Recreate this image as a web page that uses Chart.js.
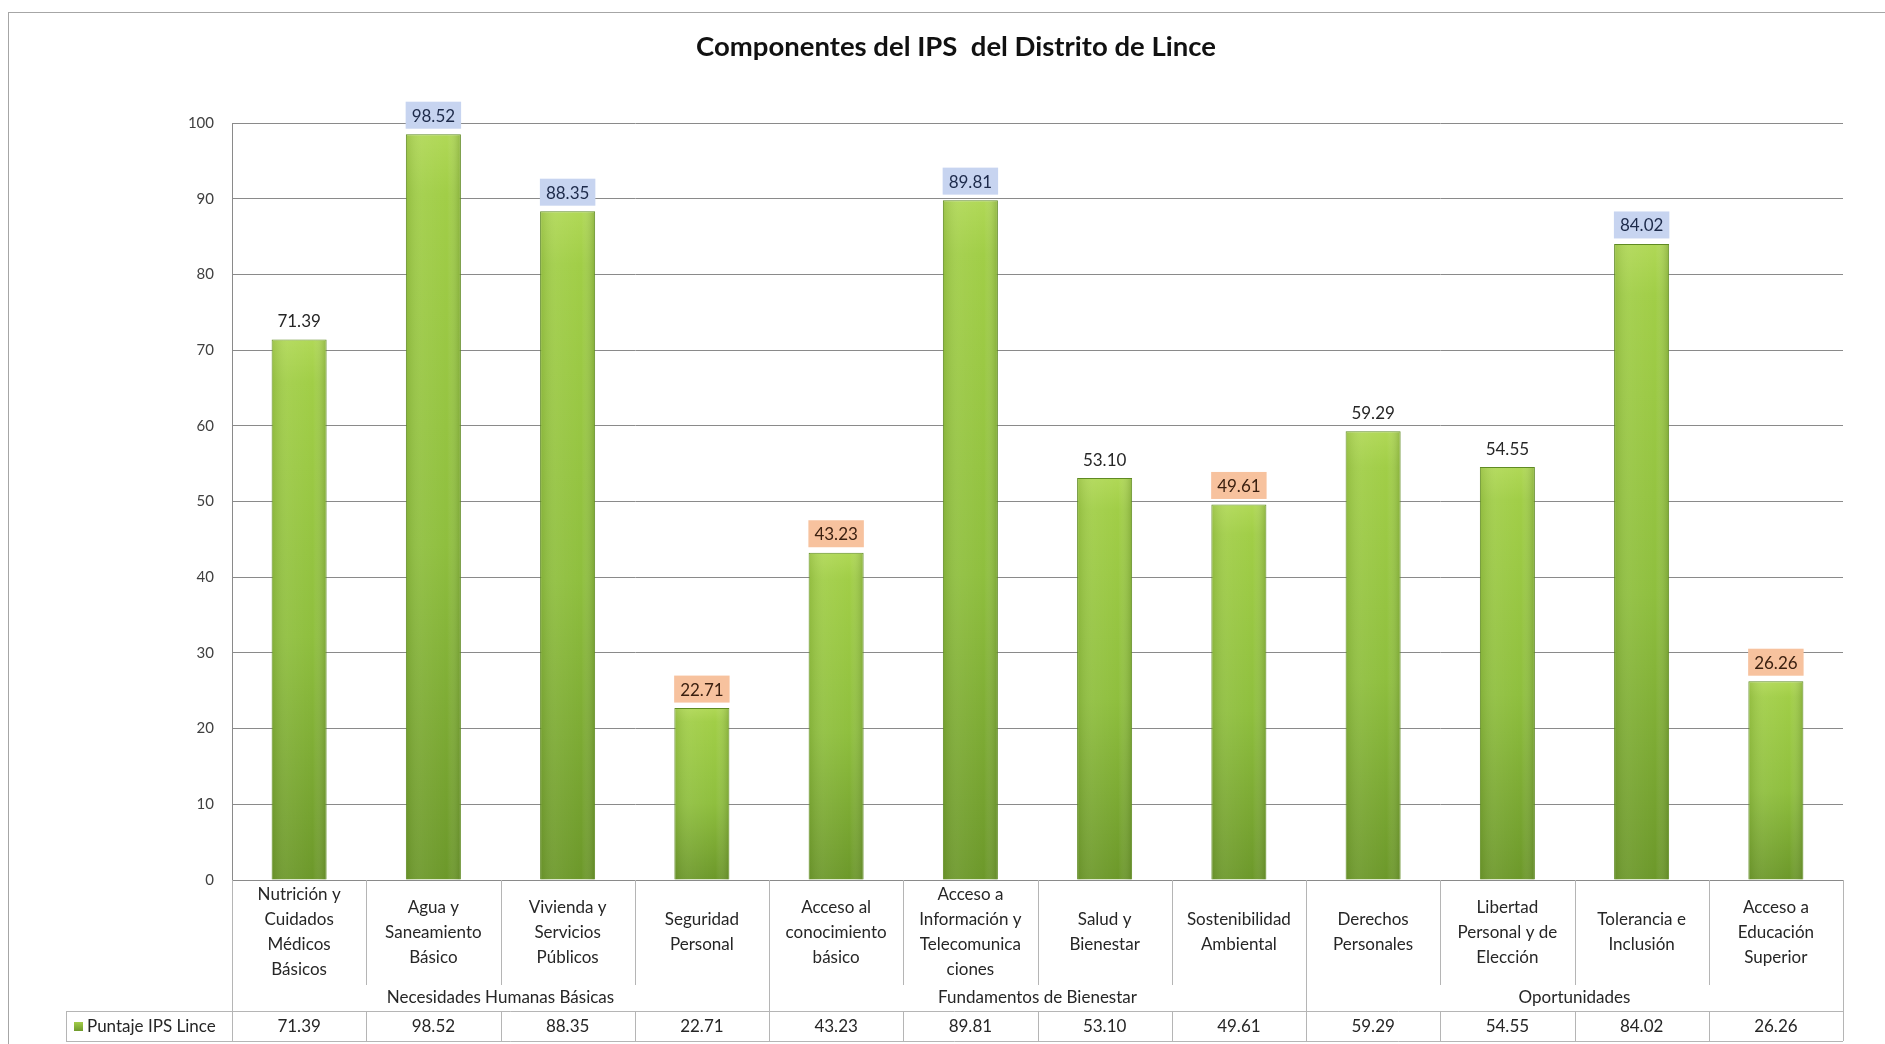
<!DOCTYPE html>
<html>
<head>
<meta charset="utf-8">
<script src="https://cdn.jsdelivr.net/npm/chart.js@4.4.1/dist/chart.umd.min.js"></script>
<style>
  html, body { margin: 0; padding: 0; background: #fff; }
</style>
</head>
<body>
<canvas id="chartIps" width="1885" height="1044"></canvas>
<script>
// datos
var categorias = [
  ['Nutrición y', 'Cuidados', 'Médicos', 'Básicos'],
  ['Agua y', 'Saneamiento', 'Básico'],
  ['Vivienda y', 'Servicios', 'Públicos'],
  ['Seguridad', 'Personal'],
  ['Acceso al', 'conocimiento', 'básico'],
  ['Acceso a', 'Información y', 'Telecomunica', 'ciones'],
  ['Salud y', 'Bienestar'],
  ['Sostenibilidad', 'Ambiental'],
  ['Derechos', 'Personales'],
  ['Libertad', 'Personal y de', 'Elección'],
  ['Tolerancia e', 'Inclusión'],
  ['Acceso a', 'Educación', 'Superior']
];
var dimensiones = ['Necesidades Humanas Básicas', 'Fundamentos de Bienestar', 'Oportunidades'];
var componentesPorDimension = [4, 4, 4];
var serieNombre = 'Puntaje IPS Lince';
var puntajeLince = [71.39, 98.52, 88.35, 22.71, 43.23, 89.81, 53.10, 49.61, 59.29, 54.55, 84.02, 26.26];
// '' sin fondo, 'alto' fondo azul, 'bajo' fondo naranja
var resaltado = ['', 'alto', 'alto', 'bajo', 'bajo', 'alto', '', 'bajo', '', '', 'alto', 'bajo'];
var ejeYMin = 0, ejeYMax = 100, ejeYPaso = 10;

var fuente = 'Lato, "Open Sans", sans-serif';
var colorTexto = '#262626';
var colorLineaTabla = '#b5b5b5';

function degradadoBarra(c) {
  var chart = c.chart, area = chart.chartArea;
  if (!area || c.type !== 'data') return '#95c443';
  var top = chart.scales.y.getPixelForValue(puntajeLince[c.dataIndex]);
  var g = chart.ctx.createLinearGradient(0, top, 0, area.bottom);
  g.addColorStop(0, '#b0d856');
  g.addColorStop(0.08, '#a1ce47');
  g.addColorStop(0.55, '#8fbf3e');
  g.addColorStop(1, '#6c982a');
  return g;
}

var marcoPlugin = {
  id: 'marco',
  beforeDraw: function (chart) {
    var ctx = chart.ctx;
    ctx.save();
    ctx.strokeStyle = '#a6a6a6';
    ctx.lineWidth = 1;
    ctx.strokeRect(8.5, 12.5, 1900, 1100);
    ctx.restore();
  }
};

var sombraPlugin = {
  id: 'sombra',
  afterDatasetsDraw: function (chart) {
    var ctx = chart.ctx;
    var meta = chart.getDatasetMeta(0);
    ctx.save();
    meta.data.forEach(function (el) {
      var w = el.width, x0 = el.x - w / 2;
      var g = ctx.createLinearGradient(x0, 0, x0 + w, 0);
      g.addColorStop(0, 'rgba(70,100,20,0.18)');
      g.addColorStop(0.3, 'rgba(255,255,255,0.06)');
      g.addColorStop(0.75, 'rgba(255,255,255,0)');
      g.addColorStop(1, 'rgba(60,90,15,0.28)');
      ctx.fillStyle = g;
      ctx.fillRect(x0 + 1, el.y + 1, w - 2, el.base - el.y - 1);
    });
    ctx.restore();
  }
};

var etiquetasPlugin = {
  id: 'etiquetas',
  afterDatasetsDraw: function (chart) {
    var ctx = chart.ctx;
    var meta = chart.getDatasetMeta(0);
    ctx.save();
    ctx.font = '17px ' + fuente;
    ctx.textAlign = 'center';
    ctx.textBaseline = 'middle';
    meta.data.forEach(function (el, i) {
      var txt = puntajeLince[i].toFixed(2);
      var cy = el.y - 19;
      if (resaltado[i]) {
        var tw = ctx.measureText(txt).width + 12;
        ctx.fillStyle = resaltado[i] === 'alto' ? '#c7d4f0' : '#f7c29e';
        ctx.fillRect(el.x - tw / 2, cy - 13.5, tw, 27);
      }
      ctx.fillStyle = resaltado[i] === 'alto' ? '#1d2a4a' : (resaltado[i] === 'bajo' ? '#3b2010' : colorTexto);
      ctx.fillText(txt, el.x, cy + 1);
    });
    ctx.restore();
  }
};

var tablaPlugin = {
  id: 'tabla',
  afterDraw: function (chart) {
    var ctx = chart.ctx, xs = chart.scales.x, area = chart.chartArea;
    var n = puntajeLince.length;
    var paso = (area.right - area.left) / n;
    var yBase = area.bottom;
    var yFinCat = yBase + 105, yFila = yBase + 131, yFin = yBase + 161;
    var xLeyenda = 66;
    var limites = [0];
    componentesPorDimension.forEach(function (k, j) { limites.push(limites[j] + k); });

    ctx.save();
    ctx.strokeStyle = colorLineaTabla;
    ctx.lineWidth = 1;
    ctx.beginPath();
    for (var i = 0; i <= n; i++) {
      var xl = Math.round(area.left + i * paso) + 0.5;
      if (limites.indexOf(i) >= 0) {
        ctx.moveTo(xl, yBase); ctx.lineTo(xl, yFin);
      } else {
        ctx.moveTo(xl, yBase); ctx.lineTo(xl, yFinCat);
        ctx.moveTo(xl, yFila); ctx.lineTo(xl, yFin);
      }
    }
    ctx.moveTo(xLeyenda, yFila + 0.5); ctx.lineTo(area.right, yFila + 0.5);
    ctx.moveTo(xLeyenda, yFin + 0.5); ctx.lineTo(area.right, yFin + 0.5);
    ctx.moveTo(xLeyenda + 0.5, yFila); ctx.lineTo(xLeyenda + 0.5, yFin);
    ctx.stroke();

    ctx.fillStyle = colorTexto;
    ctx.font = '17px ' + fuente;
    ctx.textAlign = 'center';
    ctx.textBaseline = 'middle';
    // nombres de componentes
    categorias.forEach(function (lineas, i) {
      var cx = xs.getPixelForValue(i);
      var y0 = yBase + 52.5 - (lineas.length - 1) * 25 / 2;
      lineas.forEach(function (t, k) { ctx.fillText(t, cx, y0 + k * 25); });
    });
    // dimensiones
    dimensiones.forEach(function (d, j) {
      var cx = area.left + (limites[j] + limites[j + 1]) / 2 * paso;
      ctx.fillText(d, cx, yBase + 118);
    });
    // fila de datos
    puntajeLince.forEach(function (v, i) {
      ctx.fillText(v.toFixed(2), xs.getPixelForValue(i), yBase + 147);
    });
    // leyenda
    var g = ctx.createLinearGradient(0, yBase + 141, 0, yBase + 151);
    g.addColorStop(0, '#a8d24c');
    g.addColorStop(1, '#6f9a2c');
    ctx.fillStyle = g;
    ctx.fillRect(74, yBase + 142, 9, 9);
    ctx.fillStyle = colorTexto;
    ctx.textAlign = 'left';
    ctx.fillText(serieNombre, 87, yBase + 147);
    ctx.restore();
  }
};

new Chart(document.getElementById('chartIps'), {
  type: 'bar',
  data: {
    labels: categorias,
    datasets: [{
      label: serieNombre,
      data: puntajeLince,
      backgroundColor: degradadoBarra,
      borderColor: '#5f8a22',
      borderWidth: 1,
      barPercentage: 0.41,
      categoryPercentage: 1
    }]
  },
  options: {
    responsive: false,
    animation: false,
    layout: { padding: { left: 69, right: 42, top: 0, bottom: 164 } },
    plugins: {
      legend: { display: false },
      tooltip: { enabled: false },
      title: {
        display: true,
        text: 'Componentes del IPS  del Distrito de Lince',
        color: '#111',
        font: { family: fuente, size: 27.5, weight: 'bold', lineHeight: 1.2 },
        padding: { top: 31, bottom: 59 }
      }
    },
    scales: {
      x: {
        ticks: { display: false },
        grid: { display: false, drawTicks: false },
        border: { display: true, color: '#8a8a8a', width: 1 }
      },
      y: {
        min: ejeYMin,
        max: ejeYMax,
        afterFit: function (s) { s.width = 163; },
        ticks: { stepSize: ejeYPaso, padding: 18, color: '#404040', font: { family: fuente, size: 15 } },
        grid: { color: '#8a8a8a', lineWidth: 1, drawTicks: false },
        border: { display: true, color: '#8a8a8a', width: 1 }
      }
    }
  },
  plugins: [marcoPlugin, sombraPlugin, etiquetasPlugin, tablaPlugin]
});
</script>
</body>
</html>
